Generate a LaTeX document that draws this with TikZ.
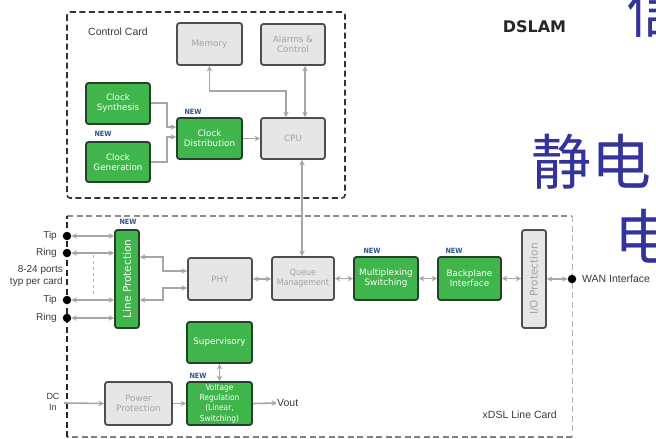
\documentclass[tikz,border=0pt]{standalone}
\usepackage{fontspec}
\setmainfont{DejaVu Sans}
\newfontfamily\cjkfont{Noto Sans CJK SC}
\newfontfamily\plainsans{Liberation Sans}
\newfontfamily\narrowsans{DejaVu Sans Condensed}
\usetikzlibrary{arrows.meta}
\definecolor{boxgreen}{HTML}{3FB54B}
\definecolor{greenedge}{HTML}{24412A}
\definecolor{boxgray}{HTML}{E6E6E6}
\definecolor{grayedge}{HTML}{4E4E4E}
\definecolor{graytext}{HTML}{A2A2A2}
\definecolor{wiregray}{HTML}{A6A6A6}
\definecolor{newblue}{HTML}{2D528F}
\definecolor{slideblue}{HTML}{33339C}
\definecolor{labelgray}{HTML}{3A3A3A}
\begin{document}
\begin{tikzpicture}[x=1pt,y=-1pt,
  >={Stealth[length=5.5pt,width=5.5pt]},
  blk/.style={rounded corners=2.5pt, line width=1.8pt, align=center, inner sep=0.5pt,
              font=\fontsize{8.8}{10}\selectfont},
  gbox/.style={blk, fill=boxgreen, draw=greenedge, text=white},
  gybox/.style={blk, fill=boxgray, draw=grayedge, text=graytext},
  vtext/.style={rotate=90, inner sep=0, font=\fontsize{10.5}{11}\selectfont},
  conn/.style={draw=wiregray, line width=1.6pt},
  newtag/.style={font=\narrowsans\bfseries\fontsize{7.2}{8}\selectfont, text=newblue, inner sep=0},
  portdot/.style={circle, fill=black, inner sep=0, minimum size=8.5pt},
  note/.style={font=\plainsans\fontsize{10}{12}\selectfont, text=labelgray, inner sep=0, align=right},
  cardframe/.style={dashed, dash pattern=on 6pt off 3.5pt, line width=1.6pt, rounded corners=3pt},
  slide/.style={font=\cjkfont\fontsize{60}{60}\selectfont, text=slideblue, inner sep=0}]
\useasboundingbox (0,0) rectangle (656,439);

% ---------- control card ----------
\draw[cardframe, draw=black!80] (67,12) rectangle (345,198);
\node[note, font=\plainsans\fontsize{10.5}{12}\selectfont] (cclabel) at (118,32) {Control Card};

\node[gybox, minimum width=65, minimum height=42] (memory) at (209.5,44) {Memory};
\node[gybox, minimum width=64, minimum height=41] (alarms) at (293,44.5) {Alarms \&\\Control};
\node[gbox, minimum width=64, minimum height=41] (csyn) at (118,103.5) {Clock\\Synthesis};
\node[gbox, minimum width=64, minimum height=40] (cgen) at (118,162) {Clock\\Generation};
\node[gbox, minimum width=65, minimum height=41] (cdist) at (209.5,138.5) {Clock\\Distribution};
\node[gybox, minimum width=64, minimum height=41] (cpu) at (293,138.5) {CPU};
\node[newtag] (newgen) at (103,134) {NEW};
\node[newtag] (newdist) at (193,112) {NEW};

\draw[conn,->] (csyn.east |- 0,103) -| (167,127) -- (cdist.west |- 0,127);
\draw[conn,->] (cgen.east |- 0,162) -| (167,137) -- (cdist.west |- 0,137);
\draw[conn,->] (cdist.east) -- (cpu.west);
\draw[conn,<->] (memory.south) |- (286,91) -- (cpu.north -| 286,0);
\draw[conn,<->] (alarms.south -| 305,0) -- (cpu.north -| 305,0);

% ---------- line card ----------
\draw[cardframe, line width=1.2pt, draw=black!45] (67,216) -- (572,216);
\draw[cardframe, line width=0.9pt, draw=black!30] (572,216) -- (572,437);
\draw[cardframe, line width=1.3pt, draw=black!50] (572,437) -- (67,437);
\draw[cardframe, line width=1.5pt, draw=black!85] (67,437) -- (67,216);
\node[note, font=\plainsans\fontsize{10.5}{12}\selectfont, anchor=east] (lclabel) at (557,415) {xDSL Line Card};

\node[gbox, minimum width=24, minimum height=98] (lp) at (127,279) {};
\node[vtext, text=white] (lptext) at (lp) {Line Protection};
\node[gybox, minimum width=64, minimum height=42] (phy) at (220,279) {PHY};
\node[gybox, minimum width=62, minimum height=43, font=\narrowsans\fontsize{8.8}{10}\selectfont] (qm) at (303,278.5) {Queue\\Management};
\node[gbox, minimum width=64, minimum height=43] (mux) at (386,278.5) {Multiplexing\\Switching};
\node[gbox, minimum width=63, minimum height=43] (bp) at (469.5,278.5) {Backplane\\Interface};
\node[gybox, minimum width=24, minimum height=98] (io) at (534,279) {};
\node[vtext, text=graytext] (iotext) at (io) {I/O Protection};
\node[gbox, minimum width=65, minimum height=41] (sup) at (219.5,342.5) {Supervisory};
\node[gbox, minimum width=65, minimum height=43, font=\narrowsans\fontsize{8.3}{10.2}\selectfont] (vr) at (219.5,403.5) {Voltage\\Regulation\\(Linear,\\Switching)};
\node[gybox, minimum width=67, minimum height=43] (pp) at (138.5,403.5) {Power\\Protection};

\node[newtag] (newlp) at (128,222) {NEW};
\node[newtag] (newmux) at (372,251) {NEW};
\node[newtag] (newbp) at (454,251) {NEW};
\node[newtag] (newvr) at (198,376) {NEW};

% line ports
\node[portdot] (tipA) at (67,236) {};
\node[portdot] (ringA) at (67,253) {};
\node[portdot] (tipB) at (67,300) {};
\node[portdot] (ringB) at (67,318) {};
\node[portdot] (wan) at (572,279) {};
\node[note, anchor=east] (tipAl) at (57,236) {Tip};
\node[note, anchor=east] (ringAl) at (57,253) {Ring};
\node[note, anchor=east] (tipBl) at (57,300) {Tip};
\node[note, anchor=east] (ringBl) at (57,318) {Ring};
\node[note, anchor=east] (portsl) at (63,276) {8-24 ports\\typ per card};
\node[note, font=\plainsans\fontsize{10.5}{12}\selectfont, anchor=west] (wanl) at (582,279) {WAN Interface};

\draw[conn,<->] (tipA.east) -- (lp.west |- tipA);
\draw[conn,<->] (ringA.east) -- (lp.west |- ringA);
\draw[conn,<->] (tipB.east) -- (lp.west |- tipB);
\draw[conn,<->] (ringB.east) -- (lp.west |- ringB);
\draw[conn, line width=1pt, dashed, draw=wiregray!80] (93,255) -- (93,297);

\draw[conn,<->] (lp.east |- 0,257) -| (163,271) -- (phy.west |- 0,271);
\draw[conn,<->] (lp.east |- 0,300) -| (163,288) -- (phy.west |- 0,288);
\draw[conn,<->] (phy.east) -- (qm.west |- phy.east);
\draw[conn,<->] (qm.east) -- (mux.west);
\draw[conn,<->] (mux.east) -- (bp.west);
\draw[conn,<->] (bp.east) -- (io.west |- bp.east);
\draw[conn,<->] (io.east |- wan) -- (wan.west);
\draw[conn,<->] (cpu.south -| 302,0) -- (qm.north -| 302,0);

% power path
\coordinate (dcin) at (64,403);
\node[note, align=center, font=\plainsans\fontsize{9}{11}\selectfont] (dcl) at (53,402) {DC\\In};
\draw[conn,->] (dcin) -- (pp.west);
\draw[conn,->] (pp.east) -- (vr.west);
\node[note, anchor=west, font=\plainsans\fontsize{10.5}{12}\selectfont] (vout) at (277,403) {Vout};
\draw[conn,->] (vr.east) -- (vout.west);
\draw[conn,<->] (sup.south) -- (vr.north);

% ---------- heading and overlaid slide text ----------
\node[font=\bfseries\fontsize{16}{16}\selectfont, text=black!85, inner sep=0] (dslam) at (534.5,27) {DSLAM};
\node[slide] (xin) at (656,10) {信};
\node[slide] (jingdian) at (591,162) {静电};
\node[slide] (dian) at (644,236) {电};
\end{tikzpicture}
\end{document}
